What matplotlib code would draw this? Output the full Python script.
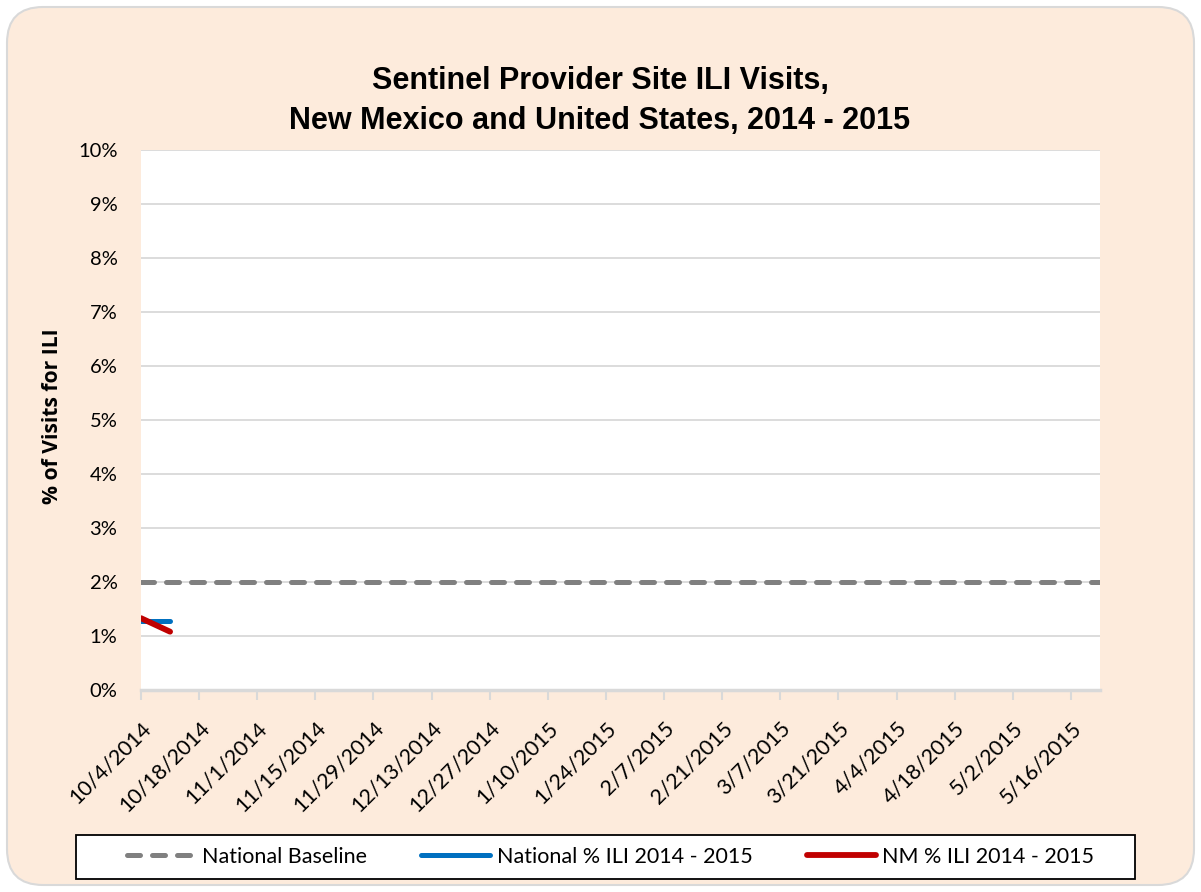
import matplotlib
matplotlib.use("Agg")
import matplotlib.pyplot as plt
from matplotlib.patches import FancyBboxPatch, Rectangle
from matplotlib.ticker import FuncFormatter, MultipleLocator
from matplotlib.transforms import ScaledTranslation
import datetime as dt

# ---- data ----
start = dt.date(2014, 10, 4)
weeks = [start + dt.timedelta(weeks=i) for i in range(34)]
week_labels = [f"{d.month}/{d.day}/{d.year}" for d in weeks]
national_baseline = [2.0] * len(weeks)
national_ili = [1.28, 1.28]
nm_ili = [1.33, 1.08]

title = "Sentinel Provider Site ILI Visits,\nNew Mexico and United States, 2014 - 2015"
ylabel = "% of Visits for ILI"

W, H = 1201, 892
fig = plt.figure(figsize=(W / 100, H / 100), dpi=100)
fig.patch.set_facecolor("white")

bg = FancyBboxPatch((7 / W, 7 / H), (W - 14) / W, (H - 14) / H,
                    boxstyle="round,pad=0,rounding_size=0.03",
                    transform=fig.transFigure, facecolor="#FDEBDC",
                    edgecolor="#D9D9D9", linewidth=1.5, zorder=-10,
                    mutation_aspect=W / H)
fig.patches.append(bg)

ax = fig.add_axes([141 / W, (H - 690) / H, 959 / W, 540 / H])
ax.set_facecolor("white")

x_all = list(range(len(weeks)))
ax.plot(x_all, national_baseline, color="#808080", lw=3.6,
        dashes=(2.6, 2.4), dash_capstyle="round", zorder=3,
        label="National Baseline")
ax.plot(x_all[:len(national_ili)], national_ili, color="#0070C0",
        lw=3.6, solid_capstyle="round", zorder=4,
        label="National % ILI 2014 - 2015")
ax.plot(x_all[:len(nm_ili)], nm_ili, color="#C00000", lw=4.2,
        solid_capstyle="round", zorder=5, label="NM % ILI 2014 - 2015")

ax.set_xlim(0, len(weeks) - 1)
ax.set_ylim(0, 10)
ax.yaxis.set_major_locator(MultipleLocator(1))
ax.yaxis.set_major_formatter(FuncFormatter(lambda v, p: f"{int(round(v))}%"))
ax.grid(axis="y", color="#D9D9D9", lw=1.3, zorder=0)
ax.set_axisbelow(True)

tick_pos = x_all[::2]
ax.set_xticks(tick_pos)
ax.set_xticklabels([week_labels[i] for i in tick_pos], rotation=45,
                   ha="right", va="top", rotation_mode="anchor",
                   fontsize=15.5, family="Lato")
off = ScaledTranslation(6 / 100, 0, fig.dpi_scale_trans)
for lab in ax.get_xticklabels():
    lab.set_transform(lab.get_transform() + off)
ax.tick_params(axis="x", length=7, width=1.5, color="#D9D9D9", pad=13)
ax.tick_params(axis="y", length=0, pad=17, labelsize=14.5)
for lab in ax.get_yticklabels():
    lab.set_family("Lato")
for s in ["top", "right", "left"]:
    ax.spines[s].set_visible(False)
ax.spines["bottom"].set_color("#D9D9D9")
ax.spines["bottom"].set_linewidth(2.5)

fig.text(600 / W, 1 - 101 / H, title, ha="center", va="center",
         fontsize=22, fontweight="bold", family="Liberation Sans",
         linespacing=1.4)
fig.text(53 / W, 1 - 416 / H, ylabel, rotation=90, ha="center", va="center",
         fontsize=15.2, fontweight="bold", family="Open Sans")

# legend frame
fig.patches.append(Rectangle((76 / W, (H - 879) / H), (1135 - 76) / W, 44 / H,
                             transform=fig.transFigure, facecolor="white",
                             edgecolor="black", lw=1.3, zorder=1))
handles, labels = ax.get_legend_handles_labels()
leg = fig.legend(handles, labels, loc="center",
                 bbox_to_anchor=((76 + 1135 + 10) / 2 / W, (H - 857) / H),
                 ncol=3, frameon=False, handlelength=3.2,
                 handletextpad=0.3, columnspacing=2.53, borderaxespad=0,
                 prop={"family": "Lato", "size": 15.5})
leg.set_zorder(2)

fig.savefig("out.png", dpi=100, facecolor=fig.get_facecolor())
